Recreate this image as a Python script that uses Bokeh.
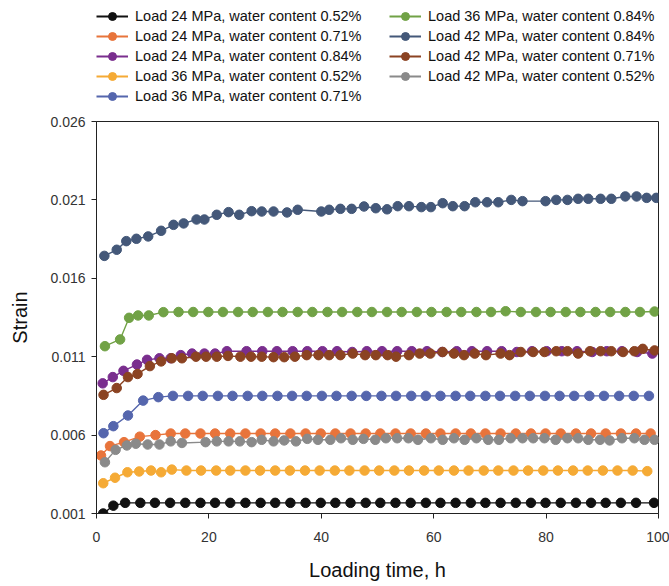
from bokeh.plotting import figure
from bokeh.layouts import column
from bokeh.models import Legend, LegendItem, FixedTicker, NumeralTickFormatter
from bokeh.embed import file_html
from bokeh.resources import INLINE

# ---- data ----
t_24_052 = [1.2, 3.0, 5.1, 7.8, 10.4, 13.1, 15.8, 18.5, 21.1, 23.8, 26.5, 29.2, 31.8, 34.5, 37.2, 39.9, 42.5, 45.2, 47.9, 50.5,
            53.2, 55.9, 58.6, 61.2, 63.9, 66.6, 69.2, 71.9, 74.6, 77.3, 79.9, 82.6, 85.3, 88.0, 90.6, 93.3, 96.0, 99.2]
s_24_052 = [0.0010, 0.0015, 0.00168, 0.00168, 0.00168, 0.00168, 0.00168, 0.00168, 0.00168, 0.00168, 0.00168, 0.00168, 0.00168,
            0.00168, 0.00168, 0.00168, 0.00168, 0.00168, 0.00168, 0.00168, 0.00168, 0.00168, 0.00168, 0.00168, 0.00168, 0.00168,
            0.00168, 0.00168, 0.00168, 0.00168, 0.00168, 0.00168, 0.00168, 0.00168, 0.00168, 0.00168, 0.00168, 0.00168]

t_24_071 = [0.8, 2.4, 4.9, 7.7, 10.5, 13.2, 15.8, 18.5, 21.1, 23.8, 26.5, 29.2, 31.8, 34.5, 37.2, 39.9, 42.5, 45.2, 47.9, 50.5,
            53.2, 55.9, 58.6, 61.2, 63.9, 66.6, 69.2, 71.9, 74.6, 77.3, 79.9, 82.6, 85.3, 88.0, 90.6, 93.3, 96.0, 98.6]
s_24_071 = [0.0047, 0.0053, 0.00555, 0.0059, 0.0060, 0.0061, 0.0061, 0.0061, 0.0061, 0.0061, 0.0061, 0.0061, 0.0061, 0.0061,
            0.0061, 0.0061, 0.0061, 0.0061, 0.0061, 0.0061, 0.0061, 0.0061, 0.0061, 0.0061, 0.0061, 0.0061, 0.0061, 0.0061,
            0.0061, 0.0061, 0.0061, 0.0061, 0.0061, 0.0061, 0.0061, 0.0061, 0.0061, 0.0061]

t_24_084 = [1.1, 2.9, 4.8, 7.2, 9.0, 11.2, 13.2, 15.0, 17.0, 19.2, 21.1, 23.2, 26.7, 29.5, 32.1, 34.9, 37.5, 40.2, 42.8, 45.5,
            48.1, 50.8, 53.5, 56.1, 58.8, 61.5, 64.1, 66.8, 69.5, 72.1, 74.8, 77.5, 80.1, 82.8, 85.5, 88.2, 90.8, 93.5, 96.2, 98.9]
s_24_084 = [0.0093, 0.0097, 0.0101, 0.0105, 0.0108, 0.0109, 0.0109, 0.0111, 0.0112, 0.0112, 0.0112, 0.01135, 0.01135, 0.01135,
            0.01135, 0.01135, 0.01135, 0.01135, 0.01135, 0.0113, 0.01135, 0.01135, 0.01135, 0.01135, 0.01135, 0.0113, 0.01135,
            0.01135, 0.01135, 0.01135, 0.0113, 0.01135, 0.01135, 0.01135, 0.01135, 0.0113, 0.01135, 0.01135, 0.0113, 0.0112]

t_36_052 = [1.2, 3.3, 5.5, 7.6, 9.7, 11.5, 13.4, 16.0, 18.6, 21.3, 23.8, 26.5, 29.1, 31.8, 34.4, 37.1, 39.7, 42.4, 45.0, 47.7,
            50.3, 53.0, 55.6, 58.3, 60.9, 63.6, 66.2, 68.9, 71.5, 74.2, 76.8, 79.5, 82.1, 84.8, 87.4, 90.1, 92.7, 95.4, 98.0]
s_36_052 = [0.00293, 0.00328, 0.00363, 0.00368, 0.00374, 0.00363, 0.0038, 0.00374, 0.00374, 0.00374, 0.00374, 0.00374, 0.00374,
            0.00374, 0.00374, 0.00374, 0.00374, 0.00374, 0.00374, 0.00374, 0.00374, 0.00374, 0.00374, 0.00374, 0.00374, 0.00374,
            0.00374, 0.00374, 0.00374, 0.00374, 0.00374, 0.00374, 0.00374, 0.00374, 0.00374, 0.00374, 0.00374, 0.00374, 0.0037]

t_36_071 = [1.25, 3.0, 5.6, 8.3, 11.0, 13.6, 16.3, 18.9, 21.6, 24.2, 26.9, 29.5, 32.2, 34.8, 37.4, 40.1, 42.7, 45.4, 48.0, 50.7,
            53.3, 56.0, 58.6, 61.2, 63.9, 66.5, 69.2, 71.8, 74.5, 77.1, 79.8, 82.4, 85.0, 87.7, 90.3, 93.0, 95.6, 98.3]
s_36_071 = [0.00612, 0.00657, 0.00725, 0.0082, 0.00842, 0.0085, 0.0085, 0.0085, 0.0085, 0.0085, 0.0085, 0.0085, 0.0085, 0.0085,
            0.0085, 0.0085, 0.0085, 0.0085, 0.0085, 0.0085, 0.0085, 0.0085, 0.0085, 0.0085, 0.0085, 0.0085, 0.0085, 0.0085,
            0.0085, 0.0085, 0.0085, 0.0085, 0.0085, 0.0085, 0.0085, 0.0085, 0.0085, 0.0085]

t_36_084 = [1.5, 4.2, 5.8, 7.4, 9.3, 11.9, 14.6, 17.2, 19.9, 22.5, 25.2, 27.8, 30.5, 33.1, 35.8, 38.4, 41.1, 43.7, 46.4, 49.0,
            51.7, 54.3, 57.0, 59.6, 62.3, 64.9, 67.6, 70.2, 72.8, 75.5, 78.2, 80.8, 83.5, 86.1, 88.8, 91.4, 94.1, 96.7, 99.3]
s_36_084 = [0.01167, 0.0121, 0.01348, 0.01363, 0.01363, 0.01384, 0.01385, 0.01385, 0.01385, 0.01385, 0.01385, 0.01385, 0.01385,
            0.01385, 0.01385, 0.01385, 0.01385, 0.01385, 0.01385, 0.01385, 0.01385, 0.01385, 0.01385, 0.01385, 0.01385, 0.01385,
            0.01385, 0.01385, 0.0139, 0.01385, 0.01385, 0.01385, 0.01385, 0.01385, 0.01385, 0.01385, 0.01385, 0.01385, 0.01388]

t_42_084 = [1.4, 3.6, 5.3, 7.1, 9.2, 11.5, 13.7, 15.5, 17.8, 19.2, 21.4, 23.5, 25.4, 27.6, 29.4, 31.5, 33.9, 35.8, 40.0, 41.4,
            43.4, 45.4, 47.6, 49.7, 51.7, 53.6, 55.6, 57.8, 59.5, 61.6, 63.4, 65.5, 67.4, 69.5, 71.5, 73.8, 75.8, 79.9, 81.8, 83.8,
            85.7, 87.5, 89.7, 91.6, 94.1, 96.1, 97.9, 99.6]
s_42_084 = [0.01743, 0.01782, 0.01837, 0.01852, 0.01867, 0.01903, 0.01941, 0.0195, 0.01975, 0.01975, 0.02005, 0.02022, 0.02005,
            0.02028, 0.02026, 0.02026, 0.0202, 0.02037, 0.02026, 0.02037, 0.02043, 0.02043, 0.02058, 0.02047, 0.0204, 0.0206,
            0.0206, 0.02054, 0.02054, 0.02079, 0.0206, 0.0206, 0.02085, 0.02085, 0.02085, 0.021, 0.02092, 0.02092, 0.021, 0.021,
            0.02107, 0.02107, 0.02107, 0.02107, 0.02122, 0.02122, 0.02113, 0.02113]

t_42_071 = [1.25, 3.6, 5.6, 7.3, 9.5, 11.5, 13.4, 15.2, 17.7, 19.5, 21.4, 23.4, 25.6, 27.5, 29.4, 31.5, 33.4, 35.3, 37.4, 39.5,
            41.4, 43.4, 45.6, 47.8, 49.7, 51.8, 53.3, 55.6, 57.5, 59.4, 61.6, 63.6, 65.4, 67.3, 69.3, 71.9, 73.5, 75.5, 77.7, 79.7,
            81.8, 83.8, 85.7, 87.8, 89.7, 91.6, 93.7, 95.7, 97.2, 99.3]
s_42_071 = [0.00857, 0.0090, 0.0097, 0.0099, 0.0104, 0.0107, 0.0109, 0.0109, 0.0110, 0.0110, 0.0110, 0.01105, 0.0110, 0.0110,
            0.0110, 0.01097, 0.01097, 0.0110, 0.0111, 0.0111, 0.0111, 0.0111, 0.0112, 0.0111, 0.0111, 0.0111, 0.0110, 0.0111,
            0.0112, 0.0112, 0.0113, 0.0112, 0.0111, 0.0112, 0.0111, 0.0112, 0.0111, 0.0113, 0.0113, 0.0113, 0.01135, 0.01135,
            0.0112, 0.01135, 0.01135, 0.01135, 0.0113, 0.01135, 0.0115, 0.0114]

t_42_052 = [1.5, 3.4, 5.4, 7.0, 9.1, 11.2, 13.2, 15.2, 19.4, 21.4, 23.5, 25.5, 27.6, 29.4, 31.5, 33.4, 35.5, 37.5, 39.4, 41.6,
            43.5, 45.6, 47.5, 49.6, 51.5, 53.5, 55.5, 57.2, 59.5, 61.6, 63.6, 65.5, 67.6, 69.7, 71.6, 73.7, 75.8, 77.7, 79.7, 81.7,
            83.8, 85.7, 87.5, 89.6, 91.3, 93.5, 95.7, 97.5, 99.3]
s_42_052 = [0.00427, 0.00506, 0.00534, 0.00545, 0.0054, 0.0054, 0.0056, 0.0055, 0.00555, 0.0056, 0.0056, 0.0056, 0.00555,
            0.0057, 0.0056, 0.00566, 0.0056, 0.00576, 0.0057, 0.0057, 0.0058, 0.0057, 0.00576, 0.0057, 0.0058, 0.0058, 0.0058,
            0.0057, 0.0058, 0.0057, 0.0058, 0.0057, 0.0058, 0.0057, 0.0057, 0.0058, 0.0058, 0.0058, 0.0058, 0.0057, 0.0058,
            0.0058, 0.0057, 0.0057, 0.00566, 0.0058, 0.0058, 0.0057, 0.0057]

labels = [
    "Load 24 MPa, water content 0.52%",
    "Load 24 MPa, water content 0.71%",
    "Load 24 MPa, water content 0.84%",
    "Load 36 MPa, water content 0.52%",
    "Load 36 MPa, water content 0.71%",
    "Load 36 MPa, water content 0.84%",
    "Load 42 MPa, water content 0.84%",
    "Load 42 MPa, water content 0.71%",
    "Load 42 MPa, water content 0.52%",
]
times = [t_24_052, t_24_071, t_24_084, t_36_052, t_36_071, t_36_084, t_42_084, t_42_071, t_42_052]
strains = [s_24_052, s_24_071, s_24_084, s_36_052, s_36_071, s_36_084, s_42_084, s_42_071, s_42_052]
colors = ["#111111", "#E8743B", "#7A2E8E", "#F5AA35", "#5566AD", "#71A246", "#445879", "#8B4322", "#8A8A8A"]

y_ticks = [0.001, 0.006, 0.011, 0.016, 0.021, 0.026]
x_ticks = [0, 20, 40, 60, 80, 100]

FONT = "Liberation Sans"
TOP_H = 108

# ---- legend strip (top); its frame is aligned with the chart frame (x 96..658) ----
# The same series are drawn here, but the y range keeps them out of view: only the legend shows.
top = figure(width=669, height=TOP_H, output_backend="svg", toolbar_location=None,
             x_range=(0, 100), y_range=(1, 2), x_axis_type=None, y_axis_type=None,
             min_border_left=96, min_border_right=11, min_border_top=0, min_border_bottom=0)
top.outline_line_color = None
top.grid.visible = False

items = []
for t, s, c, lab in zip(times, strains, colors, labels):
    lr = top.line(t, s, line_color=c, line_width=1.8)
    sr = top.scatter(t, s, size=9, fill_color=c, line_color=c, marker="circle")
    items.append(LegendItem(label=lab, renderers=[lr, sr]))

def make_legend(its, loc):
    lg = Legend(items=its, location=loc, orientation="vertical")
    lg.border_line_alpha = 0
    lg.background_fill_alpha = 0
    lg.label_text_font = FONT
    lg.label_text_font_size = "14.5px"
    lg.label_text_color = "#111111"
    lg.glyph_width = 32
    lg.glyph_height = 20
    lg.label_height = 20
    lg.label_standoff = 7
    lg.spacing = 0
    lg.padding = 0
    lg.margin = 0
    return lg

top.add_layout(make_legend(items[:5], (0, TOP_H - 106)))
top.add_layout(make_legend(items[5:], (293, TOP_H - 86)))

# ---- main chart ----
p = figure(width=669, height=586 - TOP_H, output_backend="svg", toolbar_location=None,
           x_range=(0, 100), y_range=(0.001, 0.026),
           min_border_left=96, min_border_right=11, min_border_top=121 - TOP_H, min_border_bottom=73)
p.background_fill_color = "white"
p.border_fill_color = "white"
p.grid.visible = False
p.outline_line_color = "#222222"
p.outline_line_width = 1

for t, s, c in zip(times, strains, colors):
    p.line(t, s, line_color=c, line_width=1.4)
    p.scatter(t, s, size=9.5, fill_color=c, line_color=c, marker="circle")

for ax in (p.xaxis[0], p.yaxis[0]):
    ax.axis_line_color = "#222222"
    ax.major_tick_line_color = "#222222"
    ax.major_tick_out = 5
    ax.major_tick_in = 0
    ax.minor_tick_line_color = None
    ax.major_label_text_font = FONT
    ax.major_label_text_font_size = "14px"
    ax.major_label_text_color = "#333333"
    ax.axis_label_text_font = FONT
    ax.axis_label_text_font_size = "20px"
    ax.axis_label_text_font_style = "normal"
    ax.axis_label_text_color = "#111111"

p.xaxis.ticker = FixedTicker(ticks=x_ticks)
p.yaxis.ticker = FixedTicker(ticks=y_ticks)
p.yaxis.formatter = NumeralTickFormatter(format="0.000")
p.xaxis.axis_label = "Loading time, h"
p.yaxis.axis_label = "Strain"
p.xaxis.major_label_standoff = 13
p.yaxis.major_label_standoff = 6
p.xaxis.axis_label_standoff = 14
p.yaxis.axis_label_standoff = 16

layout = column(top, p, spacing=0)
open("out.html", "w").write(file_html(layout, INLINE))
